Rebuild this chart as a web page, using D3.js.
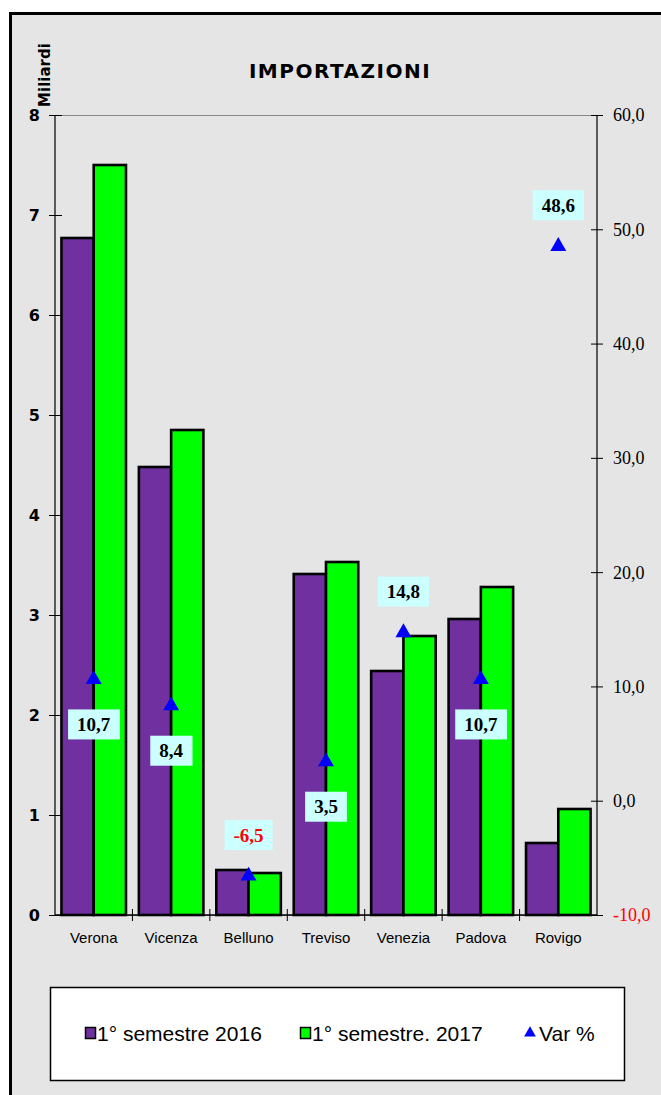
<!DOCTYPE html>
<meta charset="utf-8">
<style>
    body { margin: 0; background: #fff; }
    .frame { fill: #e5e5e5; stroke: #000; stroke-width: 3; }
    .cat { font: 15px "Liberation Sans", sans-serif; fill: #000; }
    .yl { font: bold 16px "DejaVu Sans", sans-serif; fill: #000; }
    .yr { font: 18px "Liberation Serif", serif; }
    .lbl { font: bold 19px "Liberation Serif", serif; }
    .leg { font: 21px "Liberation Sans", sans-serif; fill: #000; }
</style>
<body>
<svg width="661" height="1095"></svg>
</body>
<script src="https://cdn.jsdelivr.net/npm/d3@7"></script>
<script>

    var province = ["Verona", "Vicenza", "Belluno", "Treviso", "Venezia", "Padova", "Rovigo"];
    var sem2016 = [6.77, 4.48, 0.45, 3.41, 2.44, 2.96, 0.72];
    var sem2017 = [7.50, 4.85, 0.42, 3.53, 2.79, 3.28, 1.06];
    var varPct = [10.7, 8.4, -6.5, 3.5, 14.8, 10.7, 48.6];
    var labelAbove = [false, false, true, false, true, false, true];
    var seriesNames = ["1° semestre 2016", "1° semestre. 2017", "Var %"];
    var leftTicks = [0, 1, 2, 3, 4, 5, 6, 7, 8];
    var rightTicks = [-10, 0, 10, 20, 30, 40, 50, 60];

    var purple = "#7030a0", green = "#00ff00", blue = "#0000ff";

    var svg = d3.select("svg");

    // chart frame (cut off at right and bottom like the original)
    svg.append("rect").attr("class", "frame")
        .attr("x", 10.5).attr("y", 13.5).attr("width", 700).attr("height", 1100);

    var pL = 55, pR = 597, pT = 115, pB = 915;

    var x = d3.scaleBand().domain(province).range([pL, pR]).paddingInner(0).paddingOuter(0);
    var xs = d3.scaleBand().domain([0, 1]).range([0, x.bandwidth()]).paddingInner(0).paddingOuter(0.2);
    var y = d3.scaleLinear().domain([0, 8]).range([pB, pT]);
    var y2 = d3.scaleLinear().domain([-10, 60]).range([pB, pT]);

    // plot area border
    svg.append("rect")
        .attr("x", pL).attr("y", pT + 0.5)
        .attr("width", pR - pL).attr("height", pB - pT)
        .attr("fill", "none").attr("stroke", "#888");

    svg.append("text")
        .attr("x", 340).attr("y", 78)
        .attr("text-anchor", "middle")
        .style("font", "bold 20px 'DejaVu Sans', sans-serif")
        .style("letter-spacing", "1.5px")
        .text("IMPORTAZIONI");

    svg.append("text")
        .attr("transform", "translate(50,75) rotate(-90)")
        .attr("text-anchor", "middle")
        .style("font", "bold 15px 'DejaVu Sans', sans-serif")
        .text("Miliardi");

    // bars
    var g = svg.append("g");
    var data = province.map(function (p, i) { return {p: p, v: [sem2016[i], sem2017[i]]}; });
    g.selectAll("g.grp").data(data).enter().append("g")
        .attr("transform", function (d) { return "translate(" + x(d.p) + ",0)"; })
        .selectAll("rect").data(function (d) { return d.v; }).enter().append("rect")
        .attr("x", function (d, i) { return xs(i); })
        .attr("y", function (d) { return y(d); })
        .attr("width", xs.bandwidth())
        .attr("height", function (d) { return pB - y(d); })
        .attr("fill", function (d, i) { return i === 0 ? purple : green; })
        .attr("stroke", "#000").attr("stroke-width", 2.6);

    // left axis
    var axL = svg.append("g").attr("transform", "translate(" + pL + ",0)")
        .call(d3.axisLeft(y).tickValues(leftTicks).tickFormat(d3.format("d")));
    axL.select(".domain").attr("stroke", "#000").attr("d", "M0," + pT + "V" + pB);
    axL.selectAll(".tick line").attr("x1", -6).attr("x2", 7).attr("stroke", "#000");
    axL.selectAll(".tick text").attr("class", "yl").attr("x", -15).attr("dy", "0.36em");

    // right axis
    var fmt = function (d) { return d3.format(".1f")(d).replace(".", ",").replace("\u2212", "-"); };
    var axR = svg.append("g").attr("transform", "translate(" + pR + ",0)")
        .call(d3.axisRight(y2).tickValues(rightTicks).tickFormat(fmt));
    axR.select(".domain").attr("stroke", "#000").attr("d", "M0," + pT + "V" + pB);
    axR.selectAll(".tick line").attr("x1", -6).attr("x2", 6).attr("stroke", "#000");
    axR.selectAll(".tick text").attr("class", "yr").attr("x", 16).attr("dy", "0.33em")
        .attr("fill", function (d) { return d < 0 ? "#ff0000" : "#000"; });

    // x axis
    svg.append("line").attr("x1", pL).attr("x2", pR).attr("y1", pB).attr("y2", pB)
        .attr("stroke", "#000").attr("stroke-width", 1.3);
    svg.selectAll("line.ct").data(province.slice(1)).enter().append("line")
        .attr("x1", function (d) { return x(d); }).attr("x2", function (d) { return x(d); })
        .attr("y1", pB - 6).attr("y2", pB + 6).attr("stroke", "#000");
    svg.selectAll("text.cat").data(province).enter().append("text")
        .attr("class", "cat")
        .attr("x", function (d) { return x(d) + x.bandwidth() / 2; })
        .attr("y", 943)
        .attr("text-anchor", "middle")
        .text(function (d) { return d; });

    // var % markers
    var tri = d3.symbol().type(d3.symbolTriangle).size(110);
    svg.selectAll("path.mk").data(varPct).enter().append("path")
        .attr("transform", function (d, i) {
            return "translate(" + (x(province[i]) + x.bandwidth() / 2) + "," + (y2(d) + 1) + ")";
        })
        .attr("d", tri).attr("fill", blue);

    // labels
    var lab = svg.selectAll("g.lab").data(varPct).enter().append("g")
        .attr("transform", function (d, i) {
            var cy = y2(d) + (labelAbove[i] ? -40 : 46);
            return "translate(" + (x(province[i]) + x.bandwidth() / 2) + "," + cy + ")";
        });
    lab.append("text")
        .attr("class", "lbl")
        .attr("text-anchor", "middle")
        .attr("dy", "0.35em")
        .attr("fill", function (d) { return d < 0 ? "#ff0000" : "#000"; })
        .text(function (d) { return fmt(d); });
    lab.each(function () {
        var gg = d3.select(this);
        var bb = gg.select("text").node().getBBox();
        gg.insert("rect", "text")
            .attr("x", bb.x - 9).attr("y", -15)
            .attr("width", bb.width + 18).attr("height", 30)
            .attr("fill", "#ccffff");
    });

    // legend
    svg.append("rect").attr("x", 50.5).attr("y", 987.5).attr("width", 574).attr("height", 93)
        .attr("fill", "#fff").attr("stroke", "#000").attr("stroke-width", 1.5);
    var legX = [85, 300, 524];
    var leg = svg.selectAll("g.leg").data(seriesNames).enter().append("g")
        .attr("transform", function (d, i) { return "translate(" + legX[i] + ",1033)"; });
    leg.filter(function (d, i) { return i < 2; }).append("rect")
        .attr("x", 0.5).attr("y", -5.5).attr("width", 10).attr("height", 11)
        .attr("fill", function (d, i) { return i === 0 ? purple : green; })
        .attr("stroke", "#000").attr("stroke-width", 1.5);
    leg.filter(function (d, i) { return i === 2; }).append("path")
        .attr("transform", "translate(6,0)")
        .attr("d", d3.symbol().type(d3.symbolTriangle).size(60)).attr("fill", blue);
    leg.append("text").attr("class", "leg")
        .attr("x", function (d, i) { return i === 2 ? 15 : 12; })
        .attr("dy", "0.36em")
        .text(function (d) { return d; });

</script>
